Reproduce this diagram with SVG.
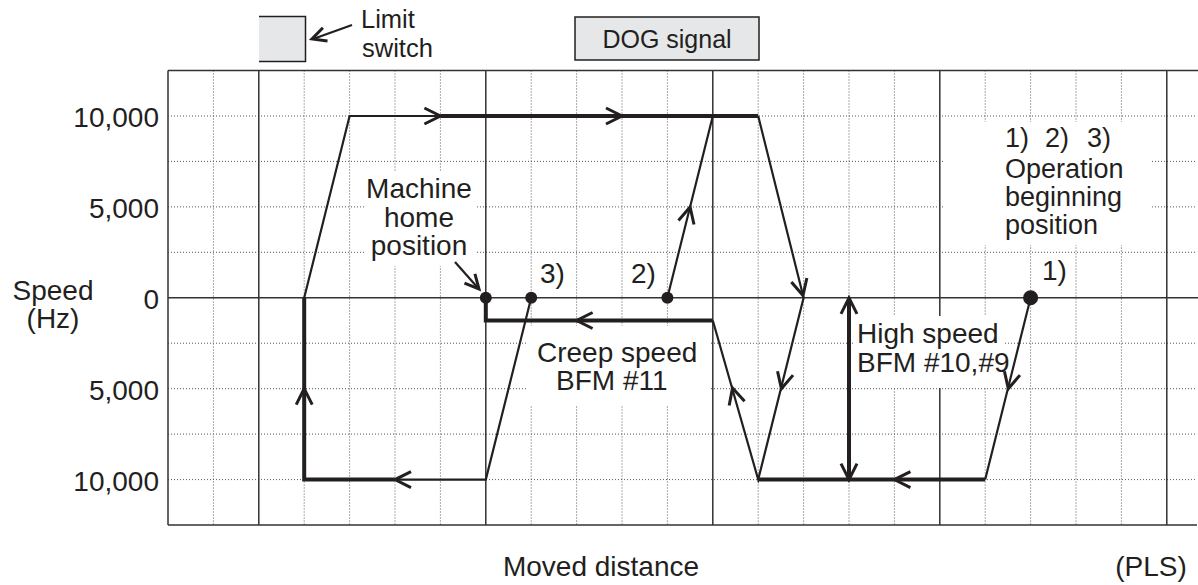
<svg xmlns="http://www.w3.org/2000/svg" xmlns:xlink="http://www.w3.org/1999/xlink" width="1198" height="585" viewBox="0 0 1198 585">
<style>
.txt{font-family:"Liberation Sans",Arial,sans-serif;font-size:28px;fill:#231f20}
.dog{font-size:25px}
.sm{font-size:25.5px}
.op{font-size:27px}
.grid{stroke:#333;stroke-width:1.5;fill:none}
.dot{stroke:#555;stroke-width:1;stroke-dasharray:1 2;fill:none}
.thin{stroke:#231f20;stroke-width:2.2;fill:none;stroke-linejoin:miter}
.thick{stroke:#231f20;stroke-width:4;fill:none;stroke-linejoin:miter}
.hd{stroke:#231f20;stroke-width:3;fill:none}
.bg{fill:#fff}
</style>
<defs>
<path id="chev" d="M-16,-8 L0,0 L-16,8"/>
<path id="chevs" d="M-14,-7 L0,0 L-14,7"/>
</defs>
<rect width="1198" height="585" fill="#fff"/>
<g id="grid">
<path class="dot" d="M213.4,70.5V525M304.2,70.5V525M349.6,70.5V525M395,70.5V525M440.4,70.5V525M531.2,70.5V525M576.6,70.5V525M622,70.5V525M667.4,70.5V525M758.2,70.5V525M803.6,70.5V525M849,70.5V525M894.4,70.5V525M985.2,70.5V525M1030.6,70.5V525M1076,70.5V525M1121.4,70.5V525"/>
<path class="dot" d="M168,116H1196M168,161.4H1196M168,206.9H1196M168,252.3H1196M168,343.2H1196M168,388.7H1196M168,434.1H1196M168,479.6H1196"/>
<path class="grid" d="M168,70.5H1198M168,297.8H1198M168,525H1197M168,70.5V525M258.8,70.5V525M485.8,70.5V525M712.8,70.5V525M939.8,70.5V525M1166.8,70.5V525"/>
<rect class="bg" x="364" y="172" width="111" height="94"/>
<rect class="bg" x="527" y="326" width="182" height="79"/>
<rect class="bg" x="853" y="316" width="151" height="72"/>
<rect class="bg" x="943" y="122" width="209" height="123"/>
</g>
<g id="limit-switch">
<rect x="259" y="16" width="47" height="46" fill="#e6e7e8"/>
<path d="M259,16.5H305.5V61.5H259" stroke="#231f20" stroke-width="1.5" fill="none"/>
<line class="thin" x1="352" y1="25" x2="313" y2="39"/>
<use xlink:href="#chevs" class="hd" transform="translate(312,39) rotate(160.7)"/>
<text class="txt sm" x="361" y="28">Limit</text>
<text class="txt sm" x="362" y="57">switch</text>
</g>
<g id="dog-signal">
<rect x="575" y="17" width="184" height="43" fill="#e6e7e8" stroke="#231f20" stroke-width="1.5"/>
<text class="txt dog" x="667" y="48" text-anchor="middle">DOG signal</text>
</g>
<g id="axis-labels">
<text class="txt" x="159" y="127" text-anchor="end">10,000</text>
<text class="txt" x="159" y="218" text-anchor="end">5,000</text>
<text class="txt" x="159" y="309" text-anchor="end">0</text>
<text class="txt" x="159" y="400" text-anchor="end">5,000</text>
<text class="txt" x="159" y="491" text-anchor="end">10,000</text>
<text class="txt" x="53" y="300" text-anchor="middle">Speed</text>
<text class="txt" x="53" y="328" text-anchor="middle">(Hz)</text>
<text class="txt" x="601" y="576" text-anchor="middle">Moved distance</text>
<text class="txt" x="1151" y="576" text-anchor="middle">(PLS)</text>
</g>
<g id="connectors">
<path class="thin" d="M304.2,297.8 L349.6,116 L440.4,116"/>
<path class="thick" d="M440.4,116 L758.2,116"/>
<path class="thin" d="M758.2,116 L803.6,297.8 L758.2,479.6 L712.8,320.5"/>
<path class="thin" d="M667.4,297.8 L712.8,116"/>
<path class="thick" d="M712.8,320.5 L485.8,320.5 L485.8,297.8"/>
<path class="thin" d="M1030.6,297.8 L985.2,479.6"/>
<path class="thick" d="M985.2,479.6 L758.2,479.6"/>
<path class="thick" d="M849,299 L849,478"/>
<path class="thin" d="M531.2,297.8 L485.8,479.6 L395,479.6"/>
<path class="thick" d="M395,479.6 L304.2,479.6 L304.2,297.8"/>
<use xlink:href="#chev" class="hd" transform="translate(440.4,116)"/>
<use xlink:href="#chev" class="hd" transform="translate(622,116)"/>
<use xlink:href="#chev" class="hd" transform="translate(690.1,207) rotate(-75.98)"/>
<use xlink:href="#chev" class="hd" transform="translate(803,295.5) rotate(75.98)"/>
<use xlink:href="#chev" class="hd" transform="translate(781.4,388.7) rotate(104.02)"/>
<use xlink:href="#chev" class="hd" transform="translate(732.5,388) rotate(-105.9)"/>
<use xlink:href="#chev" class="hd" transform="translate(576.6,320.5) rotate(180)"/>
<use xlink:href="#chev" class="hd" transform="translate(1008.3,388.7) rotate(104.02)"/>
<use xlink:href="#chev" class="hd" transform="translate(894.4,479.6) rotate(180)"/>
<use xlink:href="#chev" class="hd" transform="translate(849,297.8) rotate(-90)"/>
<use xlink:href="#chev" class="hd" transform="translate(849,479.6) rotate(90)"/>
<use xlink:href="#chev" class="hd" transform="translate(395,479.6) rotate(180)"/>
<use xlink:href="#chev" class="hd" transform="translate(304.2,388.7) rotate(-90)"/>
</g>
<g id="machine-home">
<text class="txt" x="419" y="198" text-anchor="middle">Machine</text>
<text class="txt" x="419" y="227" text-anchor="middle">home</text>
<text class="txt" x="419" y="255" text-anchor="middle">position</text>
<line class="thin" x1="455" y1="262" x2="478" y2="288"/>
<use xlink:href="#chevs" class="hd" transform="translate(479,289) rotate(48.4)"/>
<circle cx="485.8" cy="297.8" r="6" fill="#231f20"/>
</g>
<g id="start-3">
<circle cx="531.2" cy="297.8" r="6" fill="#231f20"/>
<text class="txt" x="540" y="283">3)</text>
</g>
<g id="start-2">
<circle cx="667.4" cy="297.8" r="6" fill="#231f20"/>
<text class="txt" x="631" y="283">2)</text>
</g>
<g id="start-1">
<circle cx="1030.6" cy="297.8" r="7.5" fill="#231f20"/>
<text class="txt" x="1042" y="280">1)</text>
</g>
<g id="operation-label">
<text class="txt op" y="147"><tspan x="1005">1)</tspan><tspan x="1045">2)</tspan><tspan x="1087">3)</tspan></text>
<text class="txt op" x="1005" y="178">Operation</text>
<text class="txt op" x="1005" y="206">beginning</text>
<text class="txt op" x="1005" y="234">position</text>
</g>
<g id="creep-label">
<text class="txt" x="537" y="362">Creep speed</text>
<text class="txt" x="556" y="390">BFM #11</text>
</g>
<g id="high-label">
<text class="txt" x="857" y="343">High speed</text>
<text class="txt" x="857" y="372">BFM #10,#9</text>
</g>
</svg>
